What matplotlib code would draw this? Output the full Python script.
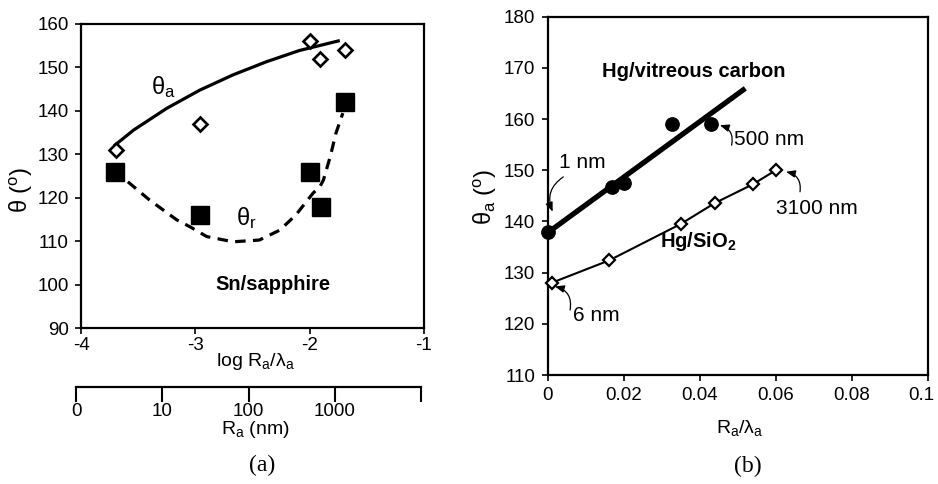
import matplotlib
matplotlib.use("Agg")
import matplotlib.pyplot as plt
from matplotlib.transforms import ScaledTranslation

plt.rcParams['font.family'] = ['Liberation Sans', 'DejaVu Sans']
plt.rcParams['mathtext.fontset'] = 'custom'
plt.rcParams['mathtext.rm'] = 'Liberation Sans'
plt.rcParams['mathtext.it'] = 'Liberation Sans:italic'
plt.rcParams['mathtext.bf'] = 'Liberation Sans:bold'
plt.rcParams['axes.unicode_minus'] = False

# ---------------- data: panel (a) Sn/sapphire ----------------
a_logr_adv = [-3.69, -2.96, -2.00, -1.91, -1.69]
a_theta_adv = [131, 137, 156, 152, 154]
a_logr_rec = [-3.70, -2.96, -2.00, -1.90, -1.69]
a_theta_rec = [126, 116, 126, 118, 142]
# trend curves
a_adv_curve_x = [-3.70, -3.54, -3.25, -2.96, -2.67, -2.38, -2.09, -1.75]
a_adv_curve_y = [132.2, 135.6, 140.6, 144.8, 148.3, 151.3, 153.9, 156.1]
a_rec_curve_x = [-3.59, -3.40, -3.16, -3.05, -2.90, -2.67, -2.44, -2.26,
                 -2.12, -1.97, -1.91, -1.88, -1.82, -1.77, -1.71]
a_rec_curve_y = [123.7, 119.5, 114.9, 113.4, 111.1, 109.9, 110.3, 112.6,
                 116.1, 121.1, 122.6, 124.1, 129.5, 134.9, 139.5]
a_xticks = [-4, -3, -2, -1]
a_yticks = [90, 100, 110, 120, 130, 140, 150, 160]
rnm_labels = ['0', '10', '100', '1000', '']

# ---------------- data: panel (b) ----------------
b_vc_x = [0.0, 0.017, 0.020, 0.0326, 0.0429]
b_vc_y = [138.0, 146.8, 147.6, 159.0, 159.0]
b_vc_fit_x = [0.0, 0.052]
b_vc_fit_y = [137.8, 166.0]
b_si_x = [0.001, 0.0162, 0.035, 0.044, 0.0541, 0.060]
b_si_y = [128.0, 132.4, 139.5, 143.6, 147.3, 150.0]
b_xticks = [0, 0.02, 0.04, 0.06, 0.08, 0.1]
b_xticklabels = ['0', '0.02', '0.04', '0.06', '0.08', '0.1']
b_yticks = [110, 120, 130, 140, 150, 160, 170, 180]

W, H = 938, 484
fig = plt.figure(figsize=(W / 100, H / 100), dpi=100)


def fx(px):
    return px / W


def fy(py):
    return 1 - py / H


TICK_FS = 13.5
SPINE_LW = 1.6

# ---------------- panel (a) ----------------
axa = fig.add_axes([fx(81), fy(328.3), fx(424 - 81), (328.3 - 24) / H])
axa.set_xlim(-4, -1)
axa.set_ylim(90, 160)
axa.plot(a_adv_curve_x, a_adv_curve_y, color='black', lw=2.3, zorder=2)
axa.plot(a_rec_curve_x, a_rec_curve_y, color='black', lw=2.3,
         dashes=(3.3, 2.3), zorder=2)
axa.plot(a_logr_adv, a_theta_adv, linestyle='none', marker='D', ms=7.6,
         mfc='white', mec='black', mew=1.9, zorder=3, clip_on=False)
axa.plot(a_logr_rec, a_theta_rec, linestyle='none', marker='s', ms=13.5,
         mfc='black', mec='black', zorder=3, clip_on=False)
axa.set_xticks(a_xticks)
axa.set_xticklabels([str(v) for v in a_xticks])
axa.set_yticks(a_yticks)
axa.tick_params(axis='y', direction='out', length=4, width=1.2,
                labelsize=TICK_FS, pad=5)
axa.tick_params(axis='x', direction='out', length=4, width=1.2,
                labelsize=TICK_FS, pad=2.5)
for s in axa.spines.values():
    s.set_linewidth(SPINE_LW)
axa.text(-3.28, 145.5, 'θ$_\\mathrm{a}$', fontsize=17, ha='center', va='center')
axa.text(-2.55, 115.4, 'θ$_\\mathrm{r}$', fontsize=17, ha='center', va='center')
axa.text(-2.32, 100, 'Sn/sapphire', fontsize=14.5, fontweight='bold',
         ha='center', va='center')

fig.text(fx(21.7), fy(190), 'θ ($^\\mathrm{o}$)', fontsize=17, rotation=90,
         ha='center', va='center')
fig.text(fx(255), fy(361.7), 'log R$_\\mathrm{a}$/λ$_\\mathrm{a}$', fontsize=14,
         ha='center', va='center')

# secondary Ra (nm) scale
axs = fig.add_axes([fx(76), fy(386.7), fx(421 - 76), 0.0001])
axs.set_xlim(0, 4)
axs.set_yticks([])
for k in ('top', 'left', 'right'):
    axs.spines[k].set_visible(False)
axs.spines['bottom'].set_linewidth(SPINE_LW)
axs.set_xticks(range(len(rnm_labels)))
axs.set_xticklabels(rnm_labels)
axs.tick_params(axis='x', direction='out', length=11, width=1.5,
                labelsize=TICK_FS, pad=1)
axs.patch.set_visible(False)
fig.text(fx(255), fy(430), 'R$_\\mathrm{a}$ (nm)', fontsize=14,
         ha='center', va='center')
fig.text(fx(262), fy(465), '(a)', fontsize=17, family='Liberation Serif',
         ha='center', va='center')

# ---------------- panel (b) ----------------
axb = fig.add_axes([fx(547.7), fy(375), fx(927.7 - 547.7), (375 - 16.7) / H])
axb.set_xlim(0, 0.1)
axb.set_ylim(110, 180)
axb.plot(b_vc_fit_x, b_vc_fit_y, color='black', lw=3.8, zorder=2,
         solid_capstyle='butt')
axb.plot(b_vc_x, b_vc_y, linestyle='none', marker='o', ms=9.6, mfc='black',
         mec='black', zorder=3, clip_on=False)
axb.plot(b_si_x, b_si_y, color='black', lw=1.5, marker='D', ms=5.8,
         mfc='white', mec='black', mew=1.6, zorder=3, clip_on=False)
axb.set_xticks(b_xticks)
axb.set_xticklabels(b_xticklabels)
axb.set_yticks(b_yticks)
axb.tick_params(axis='y', direction='out', length=4, width=1.2,
                labelsize=TICK_FS, pad=5)
axb.tick_params(axis='x', direction='out', length=4, width=1.2,
                labelsize=TICK_FS, pad=5)
for s in axb.spines.values():
    s.set_linewidth(SPINE_LW)
# keep the last x tick label ("0.1") inside the figure edge
last_lbl = axb.get_xticklabels()[-1]
last_lbl.set_transform(last_lbl.get_transform() +
                       ScaledTranslation(-0.06, 0, fig.dpi_scale_trans))

axb.text(0.0385, 169.3, 'Hg/vitreous carbon', fontsize=14.5,
         fontweight='bold', ha='center', va='center')
axb.text(0.0395, 136.0, 'Hg/SiO$_\\mathbf{2}$', fontsize=14.5,
         fontweight='bold', ha='center', va='center')
ann_fs = 15
axb.text(0.0090, 151.6, '1 nm', fontsize=ann_fs, ha='center', va='center')
axb.text(0.0582, 156.0, '500 nm', fontsize=ann_fs, ha='center', va='center')
axb.text(0.0708, 142.6, '3100 nm', fontsize=ann_fs, ha='center', va='center')
axb.text(0.0127, 121.7, '6 nm', fontsize=ann_fs, ha='center', va='center')

arrow_kw = dict(arrowstyle='-|>,head_length=0.55,head_width=0.22',
                color='black', lw=0.9, shrinkA=0, shrinkB=0)
axb.annotate('', xy=(0.0013, 141.9), xytext=(0.0041, 148.7),
             arrowprops=dict(connectionstyle='arc3,rad=0.4', **arrow_kw))
axb.annotate('', xy=(0.0453, 158.8), xytext=(0.0484, 154.9),
             arrowprops=dict(connectionstyle='arc3,rad=0.45', **arrow_kw))
axb.annotate('', xy=(0.0627, 149.7), xytext=(0.0664, 145.8),
             arrowprops=dict(connectionstyle='arc3,rad=0.45', **arrow_kw))
axb.annotate('', xy=(0.0019, 127.3), xytext=(0.0059, 122.7),
             arrowprops=dict(connectionstyle='arc3,rad=0.45', **arrow_kw))

fig.text(fx(485.5), fy(197), 'θ$_\\mathrm{a}$ ($^\\mathrm{o}$)', fontsize=17,
         rotation=90, ha='center', va='center')
fig.text(fx(740), fy(428), 'R$_\\mathrm{a}$/λ$_\\mathrm{a}$', fontsize=14,
         ha='center', va='center')
fig.text(fx(748), fy(466.7), '(b)', fontsize=17, family='Liberation Serif',
         ha='center', va='center')

fig.savefig('out.png', dpi=100)
